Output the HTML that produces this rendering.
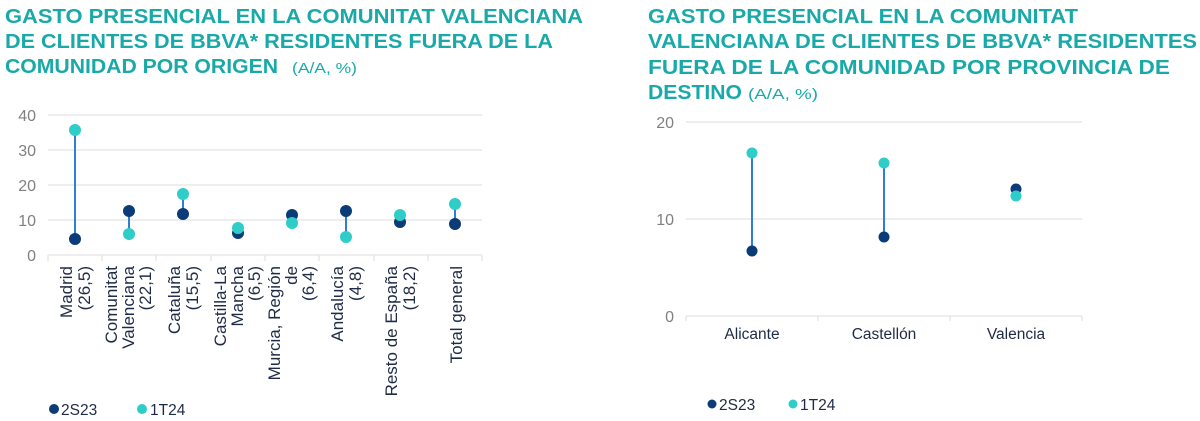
<!DOCTYPE html>
<html><head><meta charset="utf-8"><style>
html,body{margin:0;padding:0;background:#fff;}
svg{display:block;font-family:"Liberation Sans",Arial,sans-serif;}
.t{fill:#1aa9a9;font-weight:bold;font-size:20px;}
.s{fill:#1aa9a9;font-size:15px;}
.ax{fill:#808080;font-size:16px;}
.lb{fill:#1f2a44;font-size:15.5px;}
.g{stroke:#e4e4e4;stroke-width:1.3;}
.c{stroke:#2b7fd8;stroke-width:2;}
.d{fill:#0b3b78;}
.l{fill:#2ecdc8;}
</style></head><body>
<svg width="1200" height="421" viewBox="0 0 1200 421">
<text class="t" x="5" y="23" textLength="578" lengthAdjust="spacingAndGlyphs">GASTO PRESENCIAL EN LA COMUNITAT VALENCIANA</text>
<text class="t" x="5" y="48" textLength="548" lengthAdjust="spacingAndGlyphs">DE CLIENTES DE BBVA* RESIDENTES FUERA DE LA</text>
<text class="t" x="5" y="73" textLength="273" lengthAdjust="spacingAndGlyphs">COMUNIDAD POR ORIGEN</text>
<text class="s" x="292" y="73" textLength="65" lengthAdjust="spacingAndGlyphs">(A/A, %)</text>
<text class="t" x="648" y="23" textLength="430" lengthAdjust="spacingAndGlyphs">GASTO PRESENCIAL EN LA COMUNITAT</text>
<text class="t" x="648" y="48" textLength="549" lengthAdjust="spacingAndGlyphs">VALENCIANA DE CLIENTES DE BBVA* RESIDENTES</text>
<text class="t" x="648" y="74" textLength="522" lengthAdjust="spacingAndGlyphs">FUERA DE LA COMUNIDAD POR PROVINCIA DE</text>
<text class="t" x="648" y="99" textLength="94" lengthAdjust="spacingAndGlyphs">DESTINO</text>
<text class="s" x="748" y="99" textLength="70" lengthAdjust="spacingAndGlyphs">(A/A, %)</text>

<g>
<line class="g" x1="48" x2="482" y1="115" y2="115"/>
<line class="g" x1="48" x2="482" y1="150" y2="150"/>
<line class="g" x1="48" x2="482" y1="185" y2="185"/>
<line class="g" x1="48" x2="482" y1="220" y2="220"/>
<line class="g" x1="48" x2="482" y1="255" y2="255"/>
<g class="g">
<line x1="48" x2="48" y1="255" y2="261"/><line x1="102" x2="102" y1="255" y2="261"/><line x1="156" x2="156" y1="255" y2="261"/><line x1="211" x2="211" y1="255" y2="261"/><line x1="265" x2="265" y1="255" y2="261"/><line x1="319" x2="319" y1="255" y2="261"/><line x1="374" x2="374" y1="255" y2="261"/><line x1="428" x2="428" y1="255" y2="261"/><line x1="482" x2="482" y1="255" y2="261"/>
</g>
<text class="ax" x="36" y="121" text-anchor="end">40</text>
<text class="ax" x="36" y="156" text-anchor="end">30</text>
<text class="ax" x="36" y="191" text-anchor="end">20</text>
<text class="ax" x="36" y="226" text-anchor="end">10</text>
<text class="ax" x="36" y="261" text-anchor="end">0</text>
<line class="c" x1="75" x2="75" y1="239" y2="129"/>
<line class="c" x1="129" x2="129" y1="211" y2="234"/>
<line class="c" x1="183" x2="183" y1="214" y2="194"/>
<line class="c" x1="238" x2="238" y1="233" y2="228"/>
<line class="c" x1="292" x2="292" y1="215" y2="222"/>
<line class="c" x1="346" x2="346" y1="211" y2="236"/>
<line class="c" x1="400" x2="400" y1="222" y2="215"/>
<line class="c" x1="455" x2="455" y1="224" y2="204"/>
<circle class="d" cx="75" cy="239" r="6"/>
<circle class="d" cx="129" cy="211" r="6"/>
<circle class="d" cx="183" cy="214" r="6"/>
<circle class="d" cx="238" cy="233" r="6"/>
<circle class="d" cx="292" cy="215" r="6"/>
<circle class="d" cx="346" cy="211" r="6"/>
<circle class="d" cx="400" cy="222" r="6"/>
<circle class="d" cx="455" cy="224" r="6"/>
<circle class="l" cx="75" cy="130" r="6"/>
<circle class="l" cx="129" cy="234" r="6"/>
<circle class="l" cx="183" cy="194" r="6"/>
<circle class="l" cx="238" cy="228" r="6"/>
<circle class="l" cx="292" cy="223" r="6"/>
<circle class="l" cx="346" cy="237" r="6"/>
<circle class="l" cx="400" cy="215" r="6"/>
<circle class="l" cx="455" cy="204" r="6"/>
<g class="lb" text-anchor="end" style="font-size:17px">
<text transform="translate(80,266) rotate(-90)"><tspan x="0" dy="-8">Madrid</tspan><tspan x="0" dy="18">(26,5)</tspan></text>
<text transform="translate(134,266) rotate(-90)"><tspan x="0" dy="-17">Comunitat</tspan><tspan x="0" dy="17">Valenciana</tspan><tspan x="0" dy="17">(22,1)</tspan></text>
<text transform="translate(188,266) rotate(-90)"><tspan x="0" dy="-8">Cataluña</tspan><tspan x="0" dy="18">(15,5)</tspan></text>
<text transform="translate(243,266) rotate(-90)"><tspan x="0" dy="-17">Castilla-La</tspan><tspan x="0" dy="17">Mancha</tspan><tspan x="0" dy="17">(6,5)</tspan></text>
<text transform="translate(297,266) rotate(-90)"><tspan x="0" dy="-17">Murcia, Región</tspan><tspan x="0" dy="17">de</tspan><tspan x="0" dy="17">(6,4)</tspan></text>
<text transform="translate(351,266) rotate(-90)"><tspan x="0" dy="-8">Andalucía</tspan><tspan x="0" dy="18">(4,8)</tspan></text>
<text transform="translate(405,266) rotate(-90)"><tspan x="0" dy="-8">Resto de España</tspan><tspan x="0" dy="18">(18,2)</tspan></text>
<text transform="translate(460,266) rotate(-90)"><tspan x="0" dy="2">Total general</tspan></text>
</g>
<circle class="d" cx="54" cy="409" r="5"/>
<text class="lb" x="61" y="415" font-size="17">2S23</text>
<circle class="l" cx="142" cy="409" r="5"/>
<text class="lb" x="150" y="415" font-size="17">1T24</text>
</g>

<g>
<line class="g" x1="686" x2="1082" y1="122" y2="122"/>
<line class="g" x1="686" x2="1082" y1="219" y2="219"/>
<line class="g" x1="686" x2="1082" y1="316" y2="316"/>
<g class="g">
<line x1="686" x2="686" y1="316" y2="321"/><line x1="818" x2="818" y1="316" y2="321"/><line x1="950" x2="950" y1="316" y2="321"/><line x1="1082" x2="1082" y1="316" y2="321"/>
</g>
<text class="ax" x="674" y="128" text-anchor="end">20</text>
<text class="ax" x="674" y="225" text-anchor="end">10</text>
<text class="ax" x="674" y="322" text-anchor="end">0</text>
<line class="c" x1="752" x2="752" y1="251" y2="153"/>
<line class="c" x1="884" x2="884" y1="237" y2="163"/>
<line class="c" x1="1016" x2="1016" y1="189" y2="196"/>
<circle class="d" cx="752" cy="251" r="5.5"/>
<circle class="d" cx="884" cy="237" r="5.5"/>
<circle class="d" cx="1016" cy="189" r="5.5"/>
<circle class="l" cx="752" cy="153" r="5.5"/>
<circle class="l" cx="884" cy="163" r="5.5"/>
<circle class="l" cx="1016" cy="196" r="5.5"/>
<g class="lb" text-anchor="middle" font-size="14">
<text x="752" y="339">Alicante</text>
<text x="884" y="339">Castellón</text>
<text x="1016" y="339">Valencia</text>
</g>
<circle class="d" cx="712" cy="404" r="4.5"/>
<text class="lb" x="719" y="410" font-size="14">2S23</text>
<circle class="l" cx="793" cy="404" r="4.5"/>
<text class="lb" x="800" y="410" font-size="14">1T24</text>
</g>
</svg>
</body></html>
